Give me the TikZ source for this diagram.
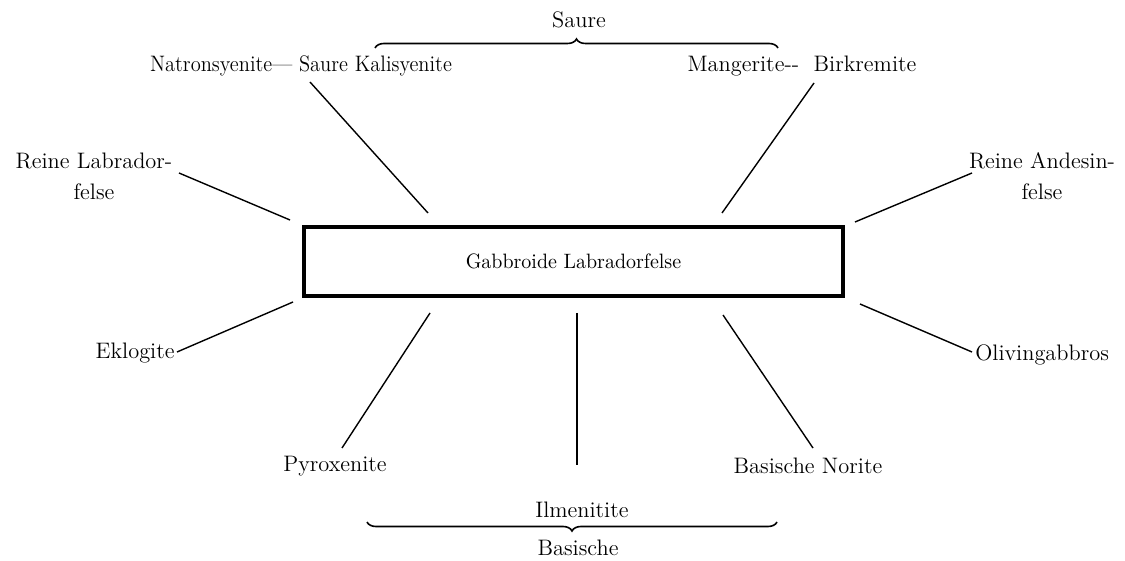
\documentclass[tikz,border=0pt]{standalone}
\usetikzlibrary{decorations.pathreplacing}
\begin{document}
\begin{tikzpicture}[x=0.5pt,y=-0.5pt,
  lbl/.style={inner sep=0pt, font=\fontsize{11.2}{15.5}\selectfont},
  conn/.style={line width=0.7pt},
  mainbox/.style={draw, line width=1.7pt, minimum width=269.5pt, minimum height=34.5pt, inner sep=0pt, font=\fontsize{10.4}{12}\selectfont},
  grp/.style={line width=0.8pt, decorate, decoration={brace, amplitude=4.5pt}}]
\useasboundingbox (0,0) rectangle (1125,561);
% centre
\node[mainbox] (box) at (573.5,261.5) {\scalebox{0.96}[1]{Gabbroide Labradorfelse}\hspace{13.5pt}};
% labels
\node[lbl] (saure) at (579,20) {Saure};
\node[lbl] (natron) at (301,66) {\scalebox{0.915}[1]{Natronsyenite--- Saure Kalisyenite}};
\node[lbl] (manger) at (802,66) {Mangerite-{}- \ Birkremite};
\node[lbl, align=center] (rlab) at (94,176) {Reine Labrador-\\felse};
\node[lbl, align=center] (rand) at (1042,176) {Reine Andesin-\\felse};
\node[lbl, anchor=east] (eklo) at (175,353) {Eklogite};
\node[lbl, anchor=west] (oliv) at (975,355) {Olivingabbros};
\node[lbl] (pyro) at (335,466) {Pyroxenite};
\node[lbl] (norite) at (808,466) {Basische Norite};
\node[lbl] (ilme) at (582,510) {Ilmenitite};
\node[lbl] (basische) at (578,548) {Basische};
% connector end points
\coordinate (c1a) at (310,82);  \coordinate (c1b) at (428,213);
\coordinate (c2a) at (814,83);  \coordinate (c2b) at (722,213);
\coordinate (c3a) at (179,173); \coordinate (c3b) at (290,220);
\coordinate (c4a) at (972,173); \coordinate (c4b) at (855,222);
\coordinate (c5a) at (177,352); \coordinate (c5b) at (293,302);
\coordinate (c6a) at (342,448); \coordinate (c6b) at (430,313);
\coordinate (c7a) at (577,313); \coordinate (c7b) at (577,465);
\coordinate (c8a) at (723,315); \coordinate (c8b) at (813,448);
\coordinate (c9a) at (860,304); \coordinate (c9b) at (972,352);
% braces
\coordinate (bt1) at (375,48); \coordinate (bt2) at (778,48);
\coordinate (bb1) at (367,522); \coordinate (bb2) at (777,522);
\draw[grp] (bt1) -- (bt2);
\draw[grp] (bb2) -- (bb1);
% connectors
\draw[conn] (c1a) -- (c1b);
\draw[conn] (c2a) -- (c2b);
\draw[conn] (c3a) -- (c3b);
\draw[conn] (c4a) -- (c4b);
\draw[conn] (c5a) -- (c5b);
\draw[conn] (c6a) -- (c6b);
\draw[conn] (c7a) -- (c7b);
\draw[conn] (c8a) -- (c8b);
\draw[conn] (c9a) -- (c9b);
\end{tikzpicture}
\end{document}
